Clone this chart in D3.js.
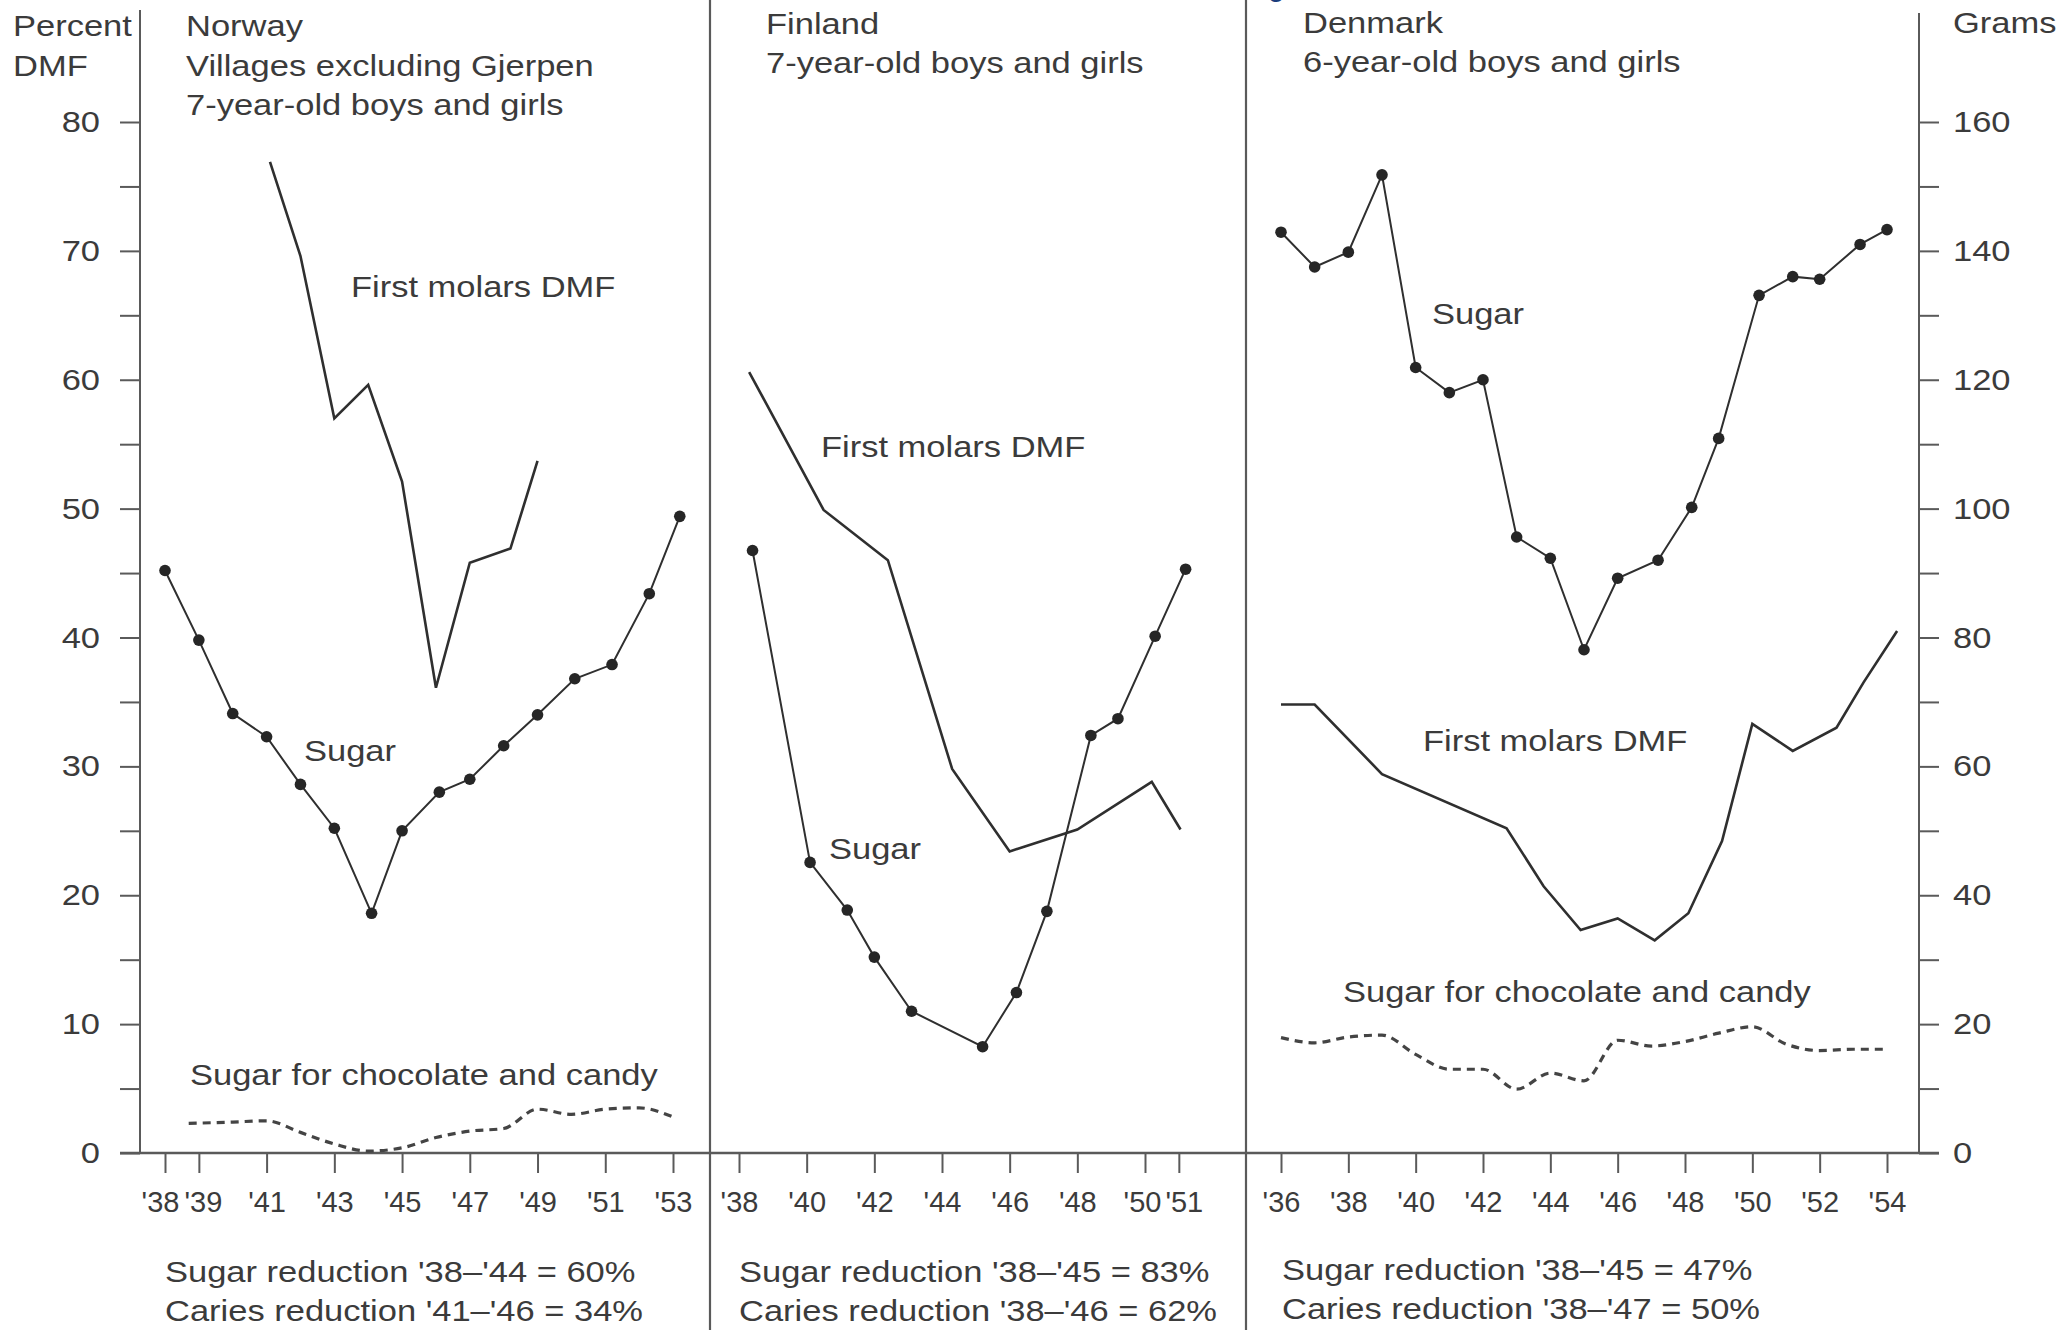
<!DOCTYPE html>
<html>
<head>
<meta charset="utf-8">
<script src="https://cdn.jsdelivr.net/npm/d3@7"></script>
<style>
  html, body { margin: 0; padding: 0; background: #ffffff; }
  svg { display: block; }
  text { font-family: "Liberation Sans", Arial, Helvetica, sans-serif; fill: #3b3b3b; }
</style>
</head>
<body>
<svg id="chart" width="2072" height="1330"></svg>
<script>
// ---------- Norway (villages excluding Gjerpen, 7-year-olds) ----------
const norwaySugarYears   = [38, 39, 40, 41, 42, 43, 44.1, 45, 46.1, 47, 48, 49, 50.1, 51.2, 52.3, 53.2];
const norwaySugarGrams   = [90.4, 79.6, 68.2, 64.6, 57.2, 50.4, 37.2, 50.0, 56.0, 58.0, 63.2, 68.0, 73.6, 75.8, 86.8, 98.8];
const norwayDmfYears     = [41.1, 42, 43, 44, 45, 46, 47, 48.2, 49];
const norwayDmfPct       = [76.9, 69.6, 57.0, 59.6, 52.1, 36.1, 45.8, 46.9, 53.7];
const norwayCandyYears   = [38.7, 40, 41, 42, 43, 44, 45, 46, 47, 48, 49, 50, 51, 52, 53];
const norwayCandyGrams   = [4.6, 4.8, 5.0, 3.2, 1.4, 0.3, 0.8, 2.4, 3.4, 3.8, 6.8, 6.0, 6.8, 7.0, 5.6];
const norwayTicks        = [38, 39, 41, 43, 45, 47, 49, 51, 53];

// ---------- Finland (7-year-olds) ----------
const finlandSugarYears  = [38.4, 40.1, 41.2, 42.0, 43.1, 45.2, 46.2, 47.1, 48.4, 49.2, 50.3, 51.2];
const finlandSugarGrams  = [93.5, 45.1, 37.7, 30.4, 22.0, 16.5, 24.9, 37.5, 64.8, 67.4, 80.2, 90.6];
const finlandDmfYears    = [38.3, 40.5, 42.4, 44.3, 46.0, 48.0, 50.2, 51.05];
const finlandDmfPct      = [60.6, 49.9, 46.0, 29.8, 23.4, 25.1, 28.8, 25.1];
const finlandTicks       = [38, 40, 42, 44, 46, 48, 50, 51];

// ---------- Denmark (6-year-olds) ----------
const denmarkSugarYears  = [36, 37, 38, 39, 40, 41, 42, 43, 44, 45, 46, 47.2, 48.2, 49, 50.2, 51.2, 52, 53.2, 54];
const denmarkSugarGrams  = [142.9, 137.5, 139.8, 151.8, 121.9, 118.0, 120.0, 95.6, 92.3, 78.1, 89.2, 92.0, 100.2, 110.9, 133.1, 136.0, 135.6, 141.0, 143.3];
const denmarkDmfYears    = [36, 37, 39, 42.7, 43.8, 44.9, 46, 47.1, 48.1, 49.1, 50, 51.2, 52.5, 53.3, 54.3];
const denmarkDmfPct      = [34.8, 34.8, 29.4, 25.2, 20.7, 17.3, 18.2, 16.5, 18.6, 24.2, 33.3, 31.2, 33.0, 36.5, 40.5];
const denmarkCandyYears  = [36, 37, 38, 39, 40, 41, 42, 43, 44, 45, 46, 47, 48, 49, 50, 51, 52, 53, 54];
const denmarkCandyGrams  = [17.9, 17.1, 18.0, 18.3, 15.3, 13.0, 13.0, 9.9, 12.4, 11.2, 17.5, 16.6, 17.3, 18.6, 19.6, 16.9, 15.9, 16.1, 16.1];
const denmarkTicks       = [36, 38, 40, 42, 44, 46, 48, 50, 52, 54];

// ---------- axis ticks ----------
const percentTicks = d3.range(0, 81, 5);
const gramTicks    = d3.range(0, 161, 10);

// ---------- texts ----------
const norwayHeader  = ["Norway", "Villages excluding Gjerpen", "7-year-old boys and girls"];
const finlandHeader = ["Finland", "7-year-old boys and girls"];
const denmarkHeader = ["Denmark", "6-year-old boys and girls"];
const norwayNotes   = ["Sugar reduction '38\u2013'44 = 60%", "Caries reduction '41\u2013'46 = 34%"];
const finlandNotes  = ["Sugar reduction '38\u2013'45 = 83%", "Caries reduction '38\u2013'46 = 62%"];
const denmarkNotes  = ["Sugar reduction '38\u2013'45 = 47%", "Caries reduction '38\u2013'47 = 50%"];

// ---------- drawing ----------
const FONT = 30, TICK_FONT = 29, SX = 1.15;
const INK = "#2f2f2f", RULE = "#5a5a5a", TXT = "#3b3b3b";
const BASE_Y = 1153, TOP_Y = 122;

const svg = d3.select("#chart");

const yPct   = d3.scaleLinear().domain([0, 80]).range([BASE_Y, TOP_Y]);
const yGrams = d3.scaleLinear().domain([0, 160]).range([BASE_Y, TOP_Y]);

const xNorway  = d3.scaleLinear().domain([38, 53]).range([165, 673]);
const xFinland = d3.scaleLinear().domain([38, 50]).range([739, 1145]);
const xDenmark = d3.scaleLinear().domain([36, 54]).range([1281, 1887]);

// text with the slightly wide lettering of the printed figure
function label(x, y, str, anchor = "start") {
  svg.append("text")
    .attr("transform", `translate(${x},${y}) scale(${SX},1)`)
    .attr("text-anchor", anchor)
    .attr("font-size", FONT)
    .text(str);
}

function styleAxis(g, stretch, size) {
  g.select(".domain").remove();
  g.selectAll(".tick line").attr("stroke", RULE).attr("stroke-width", 2);
  g.selectAll(".tick text")
    .attr("font-size", size)
    .attr("font-family", '"Liberation Sans", Arial, Helvetica, sans-serif')
    .attr("fill", TXT);
  if (stretch) {
    g.selectAll(".tick text").each(function () {
      const t = d3.select(this);
      const x = +t.attr("x") || 0;
      t.attr("x", x / SX).attr("transform", `scale(${SX},1)`);
    });
  }
}

// panel dividers
[710, 1246].forEach(x => {
  svg.append("line").attr("x1", x).attr("x2", x).attr("y1", 0).attr("y2", 1330)
    .attr("stroke", RULE).attr("stroke-width", 2.2);
});

// vertical axis lines
svg.append("line").attr("x1", 140).attr("x2", 140).attr("y1", 10).attr("y2", BASE_Y)
  .attr("stroke", RULE).attr("stroke-width", 2);
svg.append("line").attr("x1", 1919).attr("x2", 1919).attr("y1", 13).attr("y2", BASE_Y)
  .attr("stroke", RULE).attr("stroke-width", 2);

// baseline
svg.append("line").attr("x1", 120).attr("x2", 1939).attr("y1", BASE_Y).attr("y2", BASE_Y)
  .attr("stroke", RULE).attr("stroke-width", 2.4);

// left percent axis
svg.append("g").attr("transform", "translate(140,0)")
  .call(d3.axisLeft(yPct).tickValues(percentTicks)
    .tickFormat(d => d % 10 ? "" : d).tickSize(20).tickPadding(20))
  .call(g => styleAxis(g, true, FONT));

// right grams axis
svg.append("g").attr("transform", "translate(1919,0)")
  .call(d3.axisRight(yGrams).tickValues(gramTicks)
    .tickFormat(d => d % 20 ? "" : d).tickSize(20).tickPadding(14))
  .call(g => styleAxis(g, true, FONT));

// year axes; crowded neighbouring labels are eased apart a little
const yearAxes = [
  [xNorway, norwayTicks, new Map([[38, -5], [39, 4]])],
  [xFinland, finlandTicks, new Map([[50, -3], [51, 5]])],
  [xDenmark, denmarkTicks, new Map()]
];
yearAxes.forEach(([sx, ticks, nudge]) => {
  svg.append("g").attr("transform", `translate(0,${BASE_Y})`)
    .call(d3.axisBottom(sx).tickValues(ticks)
      .tickFormat(d => "'" + d).tickSize(20).tickPadding(18))
    .call(g => styleAxis(g, false, TICK_FONT))
    .call(g => g.selectAll(".tick text").attr("x", d => nudge.get(d) || 0));
});

// series helpers
function solid(xs, years, vals, yScale, width) {
  const pts = years.map((yr, i) => [xs(yr), yScale(vals[i])]);
  svg.append("path").attr("d", d3.line()(pts))
    .attr("fill", "none").attr("stroke", INK).attr("stroke-width", width)
    .attr("stroke-linejoin", "miter");
  return pts;
}
function dotted(xs, years, vals) {
  const pts = solid(xs, years, vals, yGrams, 2);
  svg.append("g").selectAll("circle").data(pts).join("circle")
    .attr("cx", d => d[0]).attr("cy", d => d[1]).attr("r", 5.8).attr("fill", "#262626");
}
function dashed(xs, years, vals) {
  const pts = years.map((yr, i) => [xs(yr), yGrams(vals[i])]);
  svg.append("path").attr("d", d3.line().curve(d3.curveMonotoneX)(pts))
    .attr("fill", "none").attr("stroke", "#444444").attr("stroke-width", 3.2)
    .attr("stroke-dasharray", "8,6");
}

// Norway
solid(xNorway, norwayDmfYears, norwayDmfPct, yPct, 2.6);
dotted(xNorway, norwaySugarYears, norwaySugarGrams);
dashed(xNorway, norwayCandyYears, norwayCandyGrams);

// Finland
solid(xFinland, finlandDmfYears, finlandDmfPct, yPct, 2.6);
dotted(xFinland, finlandSugarYears, finlandSugarGrams);

// Denmark
dotted(xDenmark, denmarkSugarYears, denmarkSugarGrams);
solid(xDenmark, denmarkDmfYears, denmarkDmfPct, yPct, 2.6);
dashed(xDenmark, denmarkCandyYears, denmarkCandyGrams);

// headings
label(13, 36, "Percent");
label(13, 76, "DMF");
label(1953, 33, "Grams");
norwayHeader.forEach((s, i) => label(186, 36 + i * 39.5, s));
finlandHeader.forEach((s, i) => label(766, 34 + i * 39, s));
denmarkHeader.forEach((s, i) => label(1303, 33 + i * 39, s));

// series labels
label(351, 297, "First molars DMF");
label(821, 457, "First molars DMF");
label(1423, 751, "First molars DMF");
label(304, 761, "Sugar");
label(829, 859, "Sugar");
label(1432, 324, "Sugar");
label(190, 1085, "Sugar for chocolate and candy");
label(1343, 1002, "Sugar for chocolate and candy");

// reduction notes
norwayNotes.forEach((s, i) => label(165, 1282 + i * 39, s));
finlandNotes.forEach((s, i) => label(739, 1282 + i * 39, s));
denmarkNotes.forEach((s, i) => label(1282, 1280 + i * 39, s));

// edge of the page title above the panels
svg.append("text").attr("x", 1268).attr("y", -4).attr("font-size", FONT)
  .style("fill", "#1b3d7c").text("g");
</script>
</body>
</html>
